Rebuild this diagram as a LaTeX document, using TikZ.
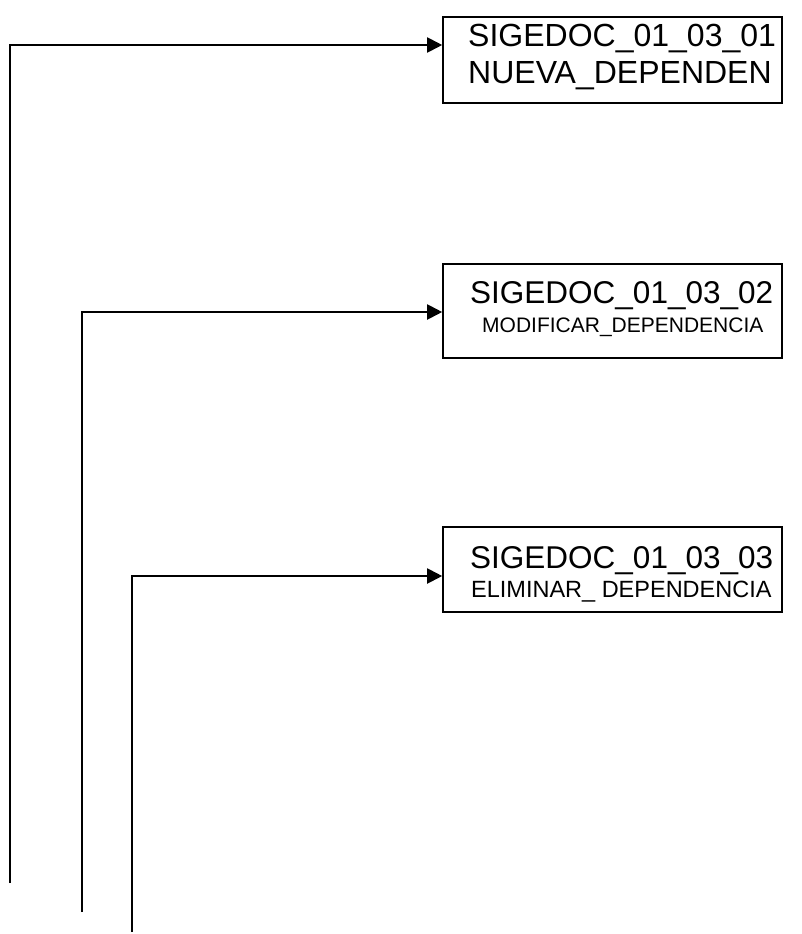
\documentclass[tikz,border=0pt]{standalone}
\usepackage{fontspec}
\setmainfont{Liberation Sans}
\usetikzlibrary{arrows.meta,calc}
\tikzset{
  box/.style={draw, line width=1.6pt, minimum width=339pt, inner sep=0pt},
  conn/.style={line width=2pt, -{Triangle[length=15pt,width=15pt]}},
  txt/.style={inner sep=0pt, anchor=base west},
}
\begin{document}
\begin{tikzpicture}[x=1pt,y=-1pt]
\useasboundingbox (0,0) rectangle (802,934);
\node[box, minimum height=86pt] (b1) at (612.5,60) {};
\node[box, minimum height=94pt] (b2) at (612.5,311) {};
\node[box, minimum height=85pt] (b3) at (612.5,569.5) {};
\node[txt, font=\fontsize{32}{32}\selectfont] (t1a) at (468,47) {SIGEDOC\_01\_03\_01};
\node[txt, font=\fontsize{32}{32}\selectfont] (t1b) at (468,84) {NUEVA\_DEPENDEN};
\node[txt, font=\fontsize{31.5}{31.5}\selectfont] (t2a) at (470,303) {SIGEDOC\_01\_03\_02};
\node[txt, font=\fontsize{21}{21}\selectfont] (t2b) at (482,332) {MODIFICAR\_DEPENDENCIA};
\node[txt, font=\fontsize{31.5}{31.5}\selectfont] (t3a) at (470,568) {SIGEDOC\_01\_03\_03};
\node[txt, font=\fontsize{23.5}{23.5}\selectfont] (t3b) at (471,597) {ELIMINAR\_ DEPENDENCIA};
\coordinate (s1) at (10,883);
\coordinate (k1) at (10,45);
\coordinate (s2) at (82,912);
\coordinate (k2) at (82,312);
\coordinate (s3) at (132,932);
\coordinate (k3) at (132,576);
\draw[conn] (s1) -- (k1) -- (k1 -| b1.west);
\draw[conn] (s2) -- (k2) -- (k2 -| b2.west);
\draw[conn] (s3) -- (k3) -- (k3 -| b3.west);
\end{tikzpicture}
\end{document}
